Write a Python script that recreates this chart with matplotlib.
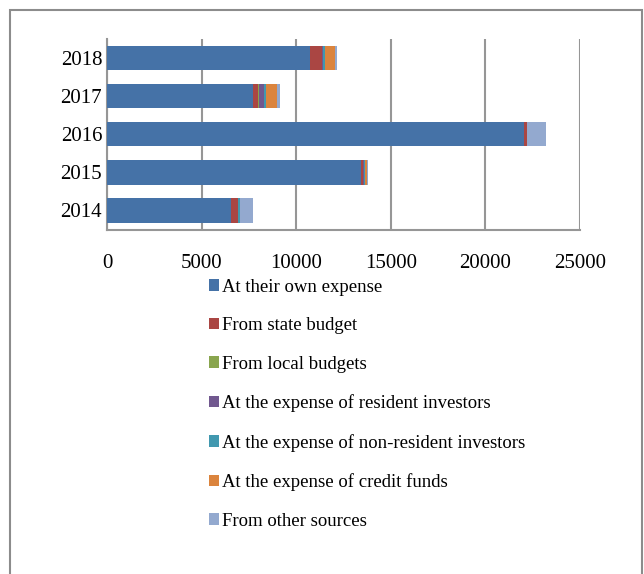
import matplotlib.pyplot as plt
import numpy as np
from matplotlib.patches import Rectangle

plt.rcParams['font.family'] = ['Liberation Serif', 'DejaVu Serif']

years = ["2014", "2015", "2016", "2017", "2018"]
series_names = [
    "At their own expense",
    "From state budget",
    "From local budgets",
    "At the expense of resident investors",
    "At the expense of non-resident investors",
    "At the expense of credit funds",
    "From other sources",
]
own_expense = [6540, 13440, 22030, 7730, 10730]
state_budget = [380, 70, 160, 230, 610]
local_budgets = [0, 20, 0, 90, 40]
resident_inv = [0, 70, 0, 260, 60]
nonresident_inv = [90, 50, 0, 120, 70]
credit_funds = [0, 90, 0, 580, 560]
other_sources = [720, 70, 1000, 140, 90]

colors = ["#4572A7", "#AA4643", "#89A54E", "#71588F", "#4198AF", "#DB843D", "#93A9CF"]

data = [own_expense, state_budget, local_budgets, resident_inv,
        nonresident_inv, credit_funds, other_sources]

fig = plt.figure(figsize=(6.44, 5.74), dpi=100)
ax = fig.add_axes([107 / 644, 1 - 229.5 / 574, 473 / 644, 190.5 / 574])

y = np.arange(len(years))
left = np.zeros(len(years))
handles = []
for name, vals, c in zip(series_names, data, colors):
    b = ax.barh(y, vals, left=left, height=0.64, color=c, label=name, zorder=3)
    handles.append(b)
    left += np.array(vals)

ax.set_xlim(0, 25000)
ax.set_ylim(-0.5, 4.5)
ax.set_xticks(np.arange(0, 25001, 5000))
ax.set_yticks(y)
ax.set_yticklabels(years)
ax.tick_params(axis='both', length=0, labelsize=15)
ax.tick_params(axis='x', pad=18)
ax.grid(axis='x', color='#969696', lw=1.5, zorder=0)
for s in ['top', 'right']:
    ax.spines[s].set_visible(False)
for s in ['left', 'bottom']:
    ax.spines[s].set_color('#969696')
    ax.spines[s].set_linewidth(1.5)

fig.legend(handles=handles, labels=series_names, loc='upper left',
           bbox_to_anchor=(201 / 644, 1 - 271 / 574), frameon=False, fontsize=13.5,
           handlelength=0.55, handleheight=0.55, handletextpad=0.15,
           labelspacing=1.15, borderaxespad=0)

fig.patches.append(Rectangle((10 / 644, -0.05), 632 / 644, 1.05 - 10 / 574,
                             transform=fig.transFigure, fill=False,
                             edgecolor='#8c8c8c', lw=1.5))

fig.savefig("out.png", dpi=100)
